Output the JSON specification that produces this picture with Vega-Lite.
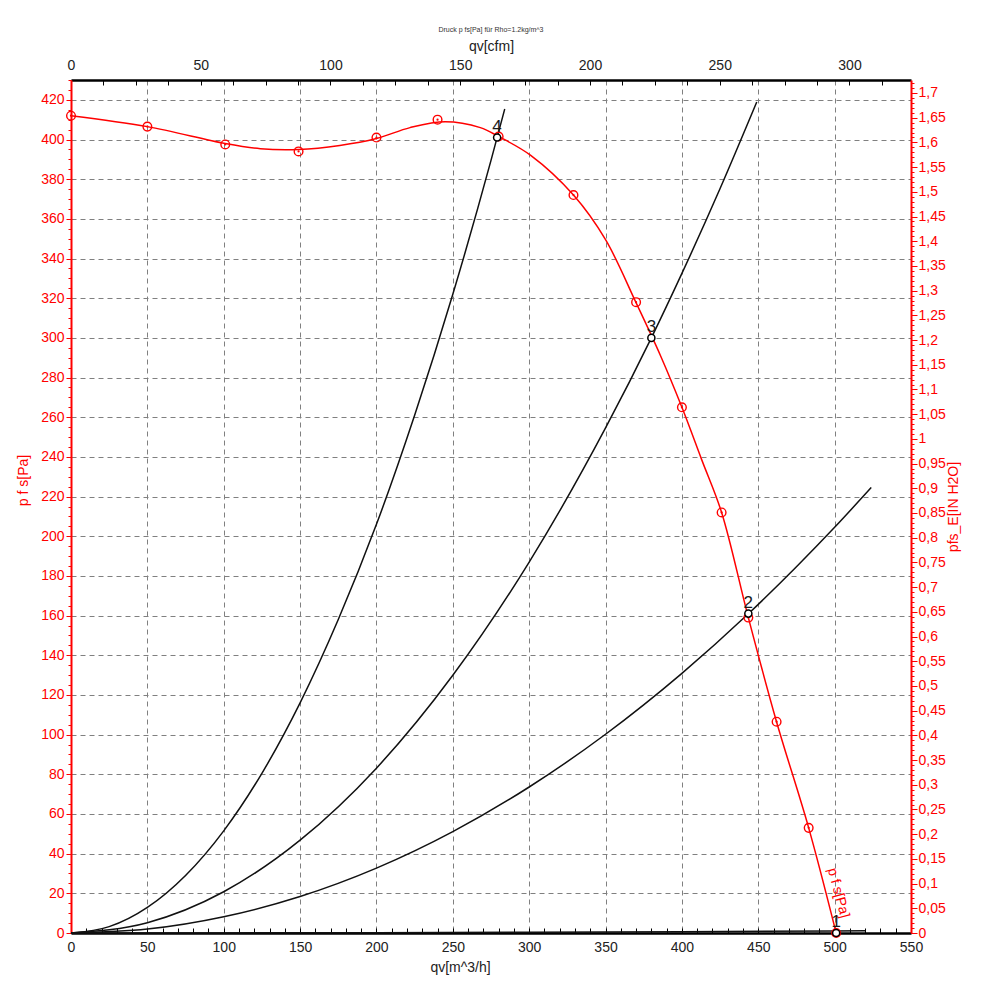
{
  "$schema": "https://vega.github.io/schema/vega-lite/v6.json",
  "width": 840,
  "height": 853,
  "autosize": {"type": "none"},
  "padding": {"left": 71, "top": 80, "right": 89, "bottom": 67},
  "background": "white",
  "title": {"text": "Druck p fs[Pa] für Rho=1.2kg/m^3", "fontSize": 7, "font": "Liberation Sans", "fontWeight": "normal", "color": "#333333", "offset": 6},
  "config": {
    "view": {"stroke": null},
    "font": "Liberation Sans",
    "axis": {"labelFont": "Liberation Sans", "titleFont": "Liberation Sans", "labelFontSize": 14, "titleFontSize": 14, "titleFontWeight": "normal", "labelOverlap": false, "labelFlush": false, "labelBound": false}
  },
  "datasets": {
    "fan": [
      {"q": 0, "p": 412}, {"q": 50, "p": 406.5}, {"q": 101, "p": 398}, {"q": 124, "p": 395.4},
      {"q": 149, "p": 395}, {"q": 176, "p": 397}, {"q": 200, "p": 400.5}, {"q": 222, "p": 406},
      {"q": 245, "p": 409}, {"q": 268, "p": 406}, {"q": 280, "p": 401.5},
      {"q": 301, "p": 392}, {"q": 329, "p": 372}, {"q": 350, "p": 349.5}, {"q": 370, "p": 317.7},
      {"q": 386, "p": 291}, {"q": 400, "p": 265}, {"q": 413, "p": 238.5}, {"q": 426, "p": 212},
      {"q": 443.5, "p": 159}, {"q": 462, "p": 106.4}, {"q": 483, "p": 53}, {"q": 501, "p": 0}
    ],
    "markers": [
      {"q": 0, "p": 412}, {"q": 50, "p": 406.5}, {"q": 101, "p": 397.5}, {"q": 149, "p": 394},
      {"q": 200, "p": 401}, {"q": 240, "p": 410}, {"q": 280, "p": 401.5}, {"q": 329, "p": 372},
      {"q": 370, "p": 318}, {"q": 400, "p": 265}, {"q": 426, "p": 212}, {"q": 443.5, "p": 159},
      {"q": 462, "p": 106.5}, {"q": 483, "p": 53}, {"q": 501, "p": 0}
    ],
    "sys": [
      {"curve": "4", "q": 0, "p": 0}, {"curve": "4", "q": 25, "p": 3.2}, {"curve": "4", "q": 50, "p": 12.9},
      {"curve": "4", "q": 75, "p": 29}, {"curve": "4", "q": 100, "p": 51.5}, {"curve": "4", "q": 125, "p": 80.5},
      {"curve": "4", "q": 150, "p": 116}, {"curve": "4", "q": 175, "p": 158}, {"curve": "4", "q": 200, "p": 206},
      {"curve": "4", "q": 225, "p": 261}, {"curve": "4", "q": 250, "p": 322}, {"curve": "4", "q": 275, "p": 389.5},
      {"curve": "4", "q": 284, "p": 415.4},
      {"curve": "3", "q": 0, "p": 0}, {"curve": "3", "q": 50, "p": 5.2}, {"curve": "3", "q": 100, "p": 20.8},
      {"curve": "3", "q": 150, "p": 46.8}, {"curve": "3", "q": 200, "p": 83.1}, {"curve": "3", "q": 250, "p": 129.9},
      {"curve": "3", "q": 300, "p": 187}, {"curve": "3", "q": 350, "p": 254.6}, {"curve": "3", "q": 380, "p": 300},
      {"curve": "3", "q": 400, "p": 332.5}, {"curve": "3", "q": 425, "p": 375.3}, {"curve": "3", "q": 449, "p": 418.9},
      {"curve": "2", "q": 0, "p": 0}, {"curve": "2", "q": 50, "p": 2}, {"curve": "2", "q": 100, "p": 8.2},
      {"curve": "2", "q": 150, "p": 18.4}, {"curve": "2", "q": 200, "p": 32.7}, {"curve": "2", "q": 250, "p": 51.1},
      {"curve": "2", "q": 300, "p": 73.6}, {"curve": "2", "q": 350, "p": 100.2}, {"curve": "2", "q": 400, "p": 130.9},
      {"curve": "2", "q": 443.5, "p": 160.9}, {"curve": "2", "q": 475, "p": 184.6}, {"curve": "2", "q": 500, "p": 204.5},
      {"curve": "2", "q": 524, "p": 224.6},
      {"curve": "1", "q": 0, "p": 0}, {"curve": "1", "q": 100, "p": 0.04}, {"curve": "1", "q": 200, "p": 0.16},
      {"curve": "1", "q": 300, "p": 0.36}, {"curve": "1", "q": 400, "p": 0.64}, {"curve": "1", "q": 500, "p": 1.0},
      {"curve": "1", "q": 520, "p": 1.08}
    ],
    "ops": [
      {"q": 279, "p": 401, "label": "4"}, {"q": 380, "p": 300, "label": "3"},
      {"q": 443.5, "p": 161, "label": "2"}, {"q": 501, "p": 0, "label": "1"}
    ],
    "note": [{"q": 502.3, "p": 20.2, "label": "p f s[Pa]"}]
  },
  "layer": [
    {
      "layer": [
        {
          "data": {"name": "sys"},
          "mark": {"type": "line", "color": "#111111", "strokeWidth": 1.5, "interpolate": "monotone"},
          "encoding": {
            "x": {"field": "q", "type": "quantitative", "scale": {"domain": [0, 550], "nice": false, "zero": false},
              "axis": {
                "orient": "bottom", "tickCount": 1000,
                "values": [0,10,20,30,40,50,60,70,80,90,100,110,120,130,140,150,160,170,180,190,200,210,220,230,240,250,260,270,280,290,300,310,320,330,340,350,360,370,380,390,400,410,420,430,440,450,460,470,480,490,500,510,520,530,540,550],
                "labelExpr": "datum.value % 50 === 0 ? format(datum.value, 'd') : ''",
                "labelOverlap": false, "labelFlush": false,
                "title": "qv[m^3/h]", "titleX": 389, "titlePadding": 6, "titleColor": "#222222",
                "labelColor": "#222222", "labelPadding": 12,
                "domainColor": "#000000", "domainWidth": 2.5,
                "tickColor": "#000000", "tickSize": -5,
                "grid": true, "gridDash": [5, 4], "gridColor": "#808080", "gridWidth": 1,
                "gridOpacity": {"condition": {"test": "datum.value % 50 === 0 && datum.value > 0 && datum.value < 550", "value": 1}, "value": 0}
              }
            },
            "y": {"field": "p", "type": "quantitative", "scale": {"domain": [0, 430], "nice": false, "zero": false},
              "axis": {
                "orient": "left", "tickCount": 1000,
                "values": [0,5,10,15,20,25,30,35,40,45,50,55,60,65,70,75,80,85,90,95,100,105,110,115,120,125,130,135,140,145,150,155,160,165,170,175,180,185,190,195,200,205,210,215,220,225,230,235,240,245,250,255,260,265,270,275,280,285,290,295,300,305,310,315,320,325,330,335,340,345,350,355,360,365,370,375,380,385,390,395,400,405,410,415,420,425,430],
                "labelExpr": "datum.value % 20 === 0 && datum.value <= 420 ? format(datum.value, 'd') : ''",
                "labelOverlap": false,
                "title": "p f s[Pa]", "titleColor": "#ff0000", "titleY": 400, "titlePadding": 10,
                "labelColor": "#ff0000", "labelPadding": 2,
                "domainColor": "#ff0000", "domainWidth": 2,
                "tickColor": "#ff0000",
                "tickSize": {"condition": {"test": "datum.value % 20 === 0", "value": 5}, "value": 3},
                "grid": true, "gridDash": [5, 4], "gridColor": "#808080", "gridWidth": 1,
                "gridOpacity": {"condition": {"test": "datum.value % 20 === 0 && datum.value > 0 && datum.value <= 420", "value": 1}, "value": 0}
              }
            },
            "detail": {"field": "curve"}
          }
        },
        {
          "data": {"name": "fan"},
          "mark": {"type": "line", "color": "#ff0000", "strokeWidth": 1.5, "interpolate": "catmull-rom"},
          "encoding": {
            "x": {"field": "q", "type": "quantitative"},
            "y": {"field": "p", "type": "quantitative"}
          }
        },
        {
          "data": {"name": "markers"},
          "mark": {"type": "point", "shape": "circle", "color": "#ff0000", "filled": false, "size": 75, "strokeWidth": 1.4, "opacity": 1},
          "encoding": {
            "x": {"field": "q", "type": "quantitative"},
            "y": {"field": "p", "type": "quantitative"}
          }
        },
        {
          "data": {"name": "markers"},
          "mark": {"type": "point", "shape": "circle", "color": "#ff0000", "filled": true, "size": 5, "opacity": 1},
          "encoding": {
            "x": {"field": "q", "type": "quantitative"},
            "y": {"field": "p", "type": "quantitative"}
          }
        },
        {
          "data": {"name": "ops"},
          "mark": {"type": "point", "shape": "circle", "fill": "white", "stroke": "#000000", "filled": false, "size": 50, "strokeWidth": 1.5, "fillOpacity": 1, "opacity": 1},
          "encoding": {
            "x": {"field": "q", "type": "quantitative"},
            "y": {"field": "p", "type": "quantitative"}
          }
        },
        {
          "data": {"name": "ops"},
          "mark": {"type": "text", "fontSize": 17, "color": "#1a1a1a", "dy": -11, "align": "center", "baseline": "middle"},
          "encoding": {
            "x": {"field": "q", "type": "quantitative"},
            "y": {"field": "p", "type": "quantitative"},
            "text": {"field": "label"}
          }
        },
        {
          "data": {"name": "note"},
          "mark": {"type": "text", "fontSize": 14, "color": "#ff0000", "angle": 75, "align": "center", "baseline": "middle"},
          "encoding": {
            "x": {"field": "q", "type": "quantitative"},
            "y": {"field": "p", "type": "quantitative"},
            "text": {"field": "label"}
          }
        }
      ]
    },
    {
      "data": {"values": [{"cfm": 0, "inh2o": 0}]},
      "mark": {"type": "point", "opacity": 0},
      "encoding": {
        "x": {"field": "cfm", "type": "quantitative", "scale": {"domain": [0, 323.7], "nice": false, "zero": false},
          "axis": {
            "orient": "top", "tickCount": 1000,
            "values": [0,12.5,25,37.5,50,62.5,75,87.5,100,112.5,125,137.5,150,162.5,175,187.5,200,212.5,225,237.5,250,262.5,275,287.5,300,312.5],
            "labelExpr": "datum.value % 50 === 0 ? format(datum.value, 'd') : ''",
            "labelOverlap": false, "labelFlush": false,
            "title": "qv[cfm]", "titlePadding": 5, "titleColor": "#222222",
            "labelColor": "#222222", "labelPadding": 13,
            "domainColor": "#000000", "domainWidth": 2.5,
            "tickColor": "#000000", "tickSize": -5,
            "grid": false
          }
        },
        "y": {"field": "inh2o", "type": "quantitative", "scale": {"domain": [0, 1.7263], "nice": false, "zero": false},
          "axis": {
            "orient": "right", "tickCount": 1000,
            "values": [0,0.01,0.02,0.03,0.04,0.05,0.06,0.07,0.08,0.09,0.1,0.11,0.12,0.13,0.14,0.15,0.16,0.17,0.18,0.19,0.2,0.21,0.22,0.23,0.24,0.25,0.26,0.27,0.28,0.29,0.3,0.31,0.32,0.33,0.34,0.35,0.36,0.37,0.38,0.39,0.4,0.41,0.42,0.43,0.44,0.45,0.46,0.47,0.48,0.49,0.5,0.51,0.52,0.53,0.54,0.55,0.56,0.57,0.58,0.59,0.6,0.61,0.62,0.63,0.64,0.65,0.66,0.67,0.68,0.69,0.7,0.71,0.72,0.73,0.74,0.75,0.76,0.77,0.78,0.79,0.8,0.81,0.82,0.83,0.84,0.85,0.86,0.87,0.88,0.89,0.9,0.91,0.92,0.93,0.94,0.95,0.96,0.97,0.98,0.99,1,1.01,1.02,1.03,1.04,1.05,1.06,1.07,1.08,1.09,1.1,1.11,1.12,1.13,1.14,1.15,1.16,1.17,1.18,1.19,1.2,1.21,1.22,1.23,1.24,1.25,1.26,1.27,1.28,1.29,1.3,1.31,1.32,1.33,1.34,1.35,1.36,1.37,1.38,1.39,1.4,1.41,1.42,1.43,1.44,1.45,1.46,1.47,1.48,1.49,1.5,1.51,1.52,1.53,1.54,1.55,1.56,1.57,1.58,1.59,1.6,1.61,1.62,1.63,1.64,1.65,1.66,1.67,1.68,1.69,1.7,1.71,1.72],
            "labelExpr": "abs(datum.value * 20 - round(datum.value * 20)) < 0.001 ? replace(format(datum.value, '.2~f'), '.', ',') : ''",
            "labelOverlap": false,
            "title": "pfs_E[IN H2O]", "titleColor": "#ff0000", "titleAngle": 270, "titlePadding": 15,
            "labelColor": "#ff0000", "labelPadding": 1,
            "domainColor": "#ff0000", "domainWidth": 2,
            "tickColor": "#ff0000",
            "tickSize": {"condition": {"test": "abs(datum.value * 20 - round(datum.value * 20)) < 0.001", "value": 6}, "value": 3},
            "grid": false
          }
        }
      }
    }
  ],
  "resolve": {"scale": {"x": "independent", "y": "independent"}}
}
